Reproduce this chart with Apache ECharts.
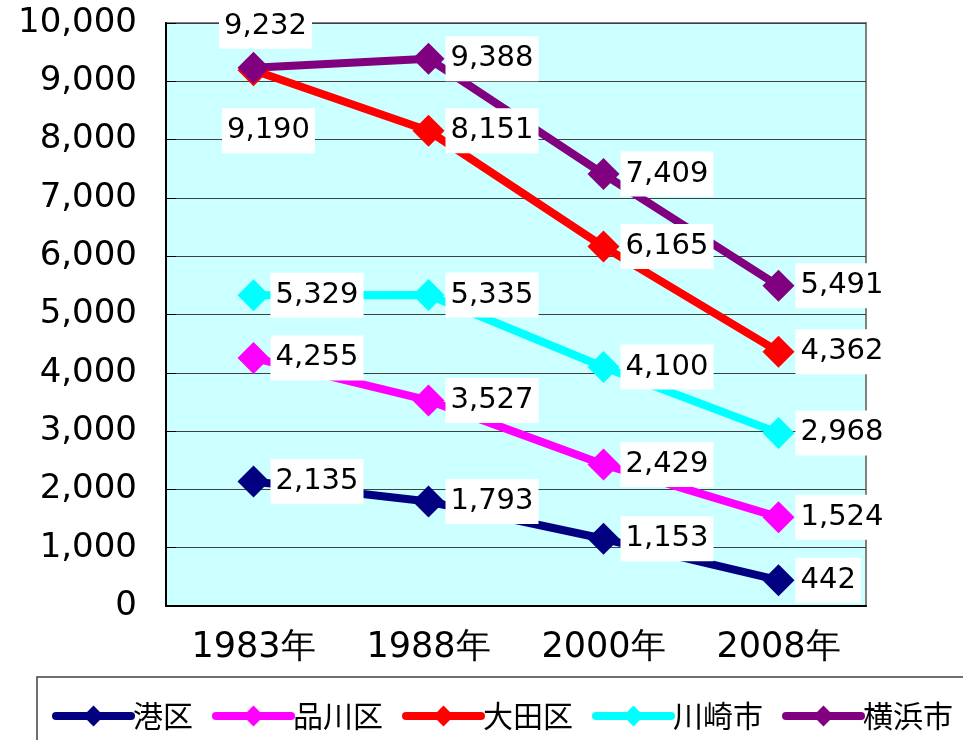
<!DOCTYPE html>
<html>
<head>
<meta charset="utf-8">
<script src="https://cdn.jsdelivr.net/npm/echarts@6/dist/echarts.min.js"></script>
<style>
    html, body { margin: 0; padding: 0; background: #fff; }
    #main { width: 963px; height: 740px; }
</style>
</head>
<body>
<div id="main"></div>
<script>
    // 年
    var years = ['1983年', '1988年', '2000年', '2008年']
    var names = ['港区', '品川区', '大田区', '川崎市', '横浜市']
    var colors = ['#000080', '#FF00FF', '#FF0000', '#00FFFF', '#800080']

    var minato = [2135, 1793, 1153, 442]
    var shinagawa = [4255, 3527, 2429, 1524]
    var ota = [9190, 8151, 6165, 4362]
    var kawasaki = [5329, 5335, 4100, 2968]
    var yokohama = [9232, 9388, 7409, 5491]

    var yTicks = [0, 10000, 1000]  // min, max, interval

    var allData = [minato, shinagawa, ota, kawasaki, yokohama]

    function fmt(v) {
        return String(v).replace(/\B(?=(\d{3})+(?!\d))/g, ',')
    }

    var labelBase = {
        show: true,
        position: 'right',
        distance: 1,
        color: '#000',
        fontFamily: 'DejaVu Sans',
        fontSize: 29,
        backgroundColor: '#fff',
        padding: [8, 5, 8, 5],
        formatter: function (p) { return fmt(p.value) }
    }

    var series = names.map(function (n, i) {
        var data = allData[i].map(function (v, j) {
            var item = { value: v }
            // 1983 の横浜市と大田区はラベル位置が違う
            if (i === 4 && j === 0) {
                item.label = { position: 'top', distance: 3, offset: [12, 0] }
            }
            if (i === 2 && j === 0) {
                item.label = { position: 'bottom', distance: 22, offset: [15, 0] }
            }
            return item
        })
        return {
            name: n,
            type: 'line',
            data: data,
            symbol: 'diamond',
            symbolSize: 32,
            lineStyle: { width: 8, color: colors[i] },
            itemStyle: { color: colors[i] },
            label: labelBase,
            animation: false
        }
    })

    var myChart = echarts.init(document.getElementById('main'))
    var options = {
        color: colors,
        grid: {
            left: 166,
            right: 97,
            top: 23,
            bottom: 134,
            show: true,
            backgroundColor: '#CCFFFF',
            borderColor: '#808080',
            borderWidth: 2
        },
        graphic: [
            {
                type: 'rect',
                z: -1,
                shape: { x: 37, y: 677, width: 1000, height: 100 },
                style: { fill: 'none', stroke: '#404040', lineWidth: 1.5 }
            }
        ],
        legend: {
            data: names,
            left: 47,
            top: 696,
            itemWidth: 75,
            itemHeight: 26,
            itemGap: 19,
            lineStyle: { width: 8, cap: 'round' },
            textStyle: {
                fontFamily: 'Noto Sans CJK JP',
                fontSize: 30,
                color: '#000',
                padding: [0, 0, 0, -3]
            }
        },
        xAxis: {
            type: 'category',
            data: years,
            boundaryGap: true,
            axisLine: { lineStyle: { color: '#000', width: 2 } },
            axisTick: { inside: true, length: 10, lineStyle: { color: '#000' } },
            axisLabel: {
                color: '#000',
                fontFamily: 'DejaVu Sans',
                fontSize: 35,
                margin: 24
            },
            splitLine: { show: false }
        },
        yAxis: {
            type: 'value',
            min: yTicks[0],
            max: yTicks[1],
            interval: yTicks[2],
            axisLine: { show: true, lineStyle: { color: '#000', width: 2 } },
            axisTick: { show: true, inside: true, length: 10, lineStyle: { color: '#000' } },
            axisLabel: {
                color: '#000',
                fontFamily: 'DejaVu Sans',
                fontSize: 34,
                margin: 29,
                formatter: function (v) { return fmt(v) }
            },
            splitLine: { show: true, lineStyle: { color: '#404040', width: 1 } }
        },
        series: series
    }
    myChart.setOption(options)
    window.addEventListener('resize', myChart.resize)
</script>
</body>
</html>
